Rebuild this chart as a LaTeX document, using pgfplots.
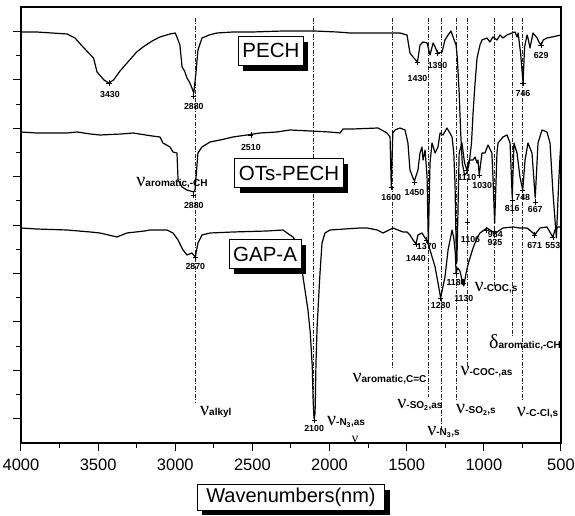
\documentclass[border=0pt]{standalone}
\usepackage{pgfplots}
\pgfplotsset{compat=1.18}
\usepackage{pgfplotstable}
\usepackage{fontspec}
\setmainfont{Liberation Sans}
\newfontfamily\grk{Liberation Serif}
\usetikzlibrary{shadows}

% peak-position labels and band assignments
\newcommand\peakfont{\fontsize{8.8}{8.8}\selectfont\bfseries}
\newcommand\vib[2]{{\grk\fontsize{20}{20}\selectfont #1}{\fontsize{10}{10}\selectfont\bfseries #2}}

% offset transmittance traces (arbitrary units, stacked)
\pgfplotstableread{
wn t
4000 411
3900 411
3800 410
3702 409
3650 405
3598 396
3530 385
3507 371
3462 363
3430 360
3400 363
3358 372
3313 380
3250 391
3209 396
3150 402
3099 406
3034 409
3000 410
2982 403
2970 398
2956 376
2940 372
2924 365
2905 360
2892 355
2880 350
2866 370
2853 393
2827 405
2780 408
2730 410
2626 411
2500 411
2300 412
2100 412
1950 411
1868 410
1700 410
1608 410
1544 410
1498 408
1479 390
1459 386
1430 381
1414 398
1394 401
1368 400
1349 388
1329 400
1316 396
1300 390
1271 391
1252 403
1232 408
1213 412
1195 404
1180 398
1172 385
1160 350
1150 310
1140 280
1125 268
1110 270
1095 280
1080 300
1070 330
1057 360
1044 385
1025 398
1012 403
980 405
961 401
941 406
915 403
895 408
876 405
850 408
818 410
798 411
785 406
778 410
762 390
746 360
736 396
720 408
714 405
701 395
688 405
681 410
655 405
640 400
629 398
615 403
591 405
558 406
500 408
}\pech

\pgfplotstableread{
wn t
4000 311
3900 310
3702 310
3637 311
3550 309
3488 308
3350 309
3274 310
3150 307
3099 306
3080 300
3034 296
3015 291
2989 290
2982 263
2956 256
2924 253
2880 251
2872 253
2853 290
2827 296
2775 301
2710 303
2626 306
2535 308
2451 310
2341 311
2257 313
2125 312
2000 311
1932 310
1913 314
1850 314
1686 315
1628 310
1608 306
1600 256
1590 310
1576 313
1544 315
1511 313
1492 300
1479 273
1459 265
1450 262
1427 273
1414 290
1401 296
1394 283
1381 293
1368 266
1360 200
1349 280
1336 300
1316 290
1297 296
1284 310
1265 308
1239 315
1220 310
1206 306
1195 290
1187 260
1180 200
1175 180
1168 230
1160 290
1142 300
1125 280
1110 273
1095 283
1070 283
1057 286
1044 280
1038 283
1030 268
1012 290
993 290
973 298
948 290
941 266
930 220
915 290
908 300
876 306
850 308
830 300
816 245
805 300
785 290
766 266
748 253
733 283
714 300
688 290
667 245
649 300
623 313
591 311
571 300
552 250
530 205
515 260
505 290
500 300
}\otspech

\pgfplotstableread{
wn t
4000 215
3900 214
3702 213
3550 211
3488 210
3378 206
3313 210
3200 212
3164 213
3054 213
3015 210
2982 203
2950 193
2924 188
2892 190
2870 186
2853 200
2827 208
2775 210
2626 211
2406 212
2302 213
2257 208
2237 206
2210 200
2185 180
2172 166
2140 133
2125 110
2112 76
2106 40
2100 24
2094 30
2088 80
2081 115
2075 133
2062 170
2049 200
2030 210
1997 213
1900 214
1803 215
1757 215
1690 213
1654 210
1589 215
1557 213
1524 211
1498 211
1479 208
1459 203
1440 199
1427 208
1401 210
1381 205
1370 203
1349 193
1316 176
1297 160
1280 145
1252 166
1232 193
1206 213
1195 205
1185 190
1180 170
1170 175
1155 172
1140 162
1130 157
1115 170
1100 180
1090 185
1070 195
1057 200
1040 206
1025 210
980 215
941 211
935 209
895 213
876 215
811 216
766 215
720 215
681 210
671 208
636 215
591 216
553 206
539 213
519 216
500 216
}\gapa

% labelled band positions: mark height, label text, label offset
\pgfplotstableread{
wn t lab dx dy
3430 360 3430 1 -11
2880 347 2880 0 -10
1430 381 1430 0 -16
1300 390 1390 0 -12
746 360 746 0 -10
629 398 629 0 -10
}\pechpk

\pgfplotstableread{
wn t lab dx dy
2880 248 2880 0 -10
2510 308 2510 0 -12
1600 256 1600 0 -10
1450 261 1450 0 -10
1110 273 1110 0 -7
1030 268 1030 3 -10
816 243 816 0 -8
748 253 748 0 -7
667 241 667 0 -7
}\otspk

\pgfplotstableread{
wn t lab dx dy
2870 186 2870 0 -9
2100 23 2100 0 -8
1440 199 1440 0 -14
1370 203 1370 0 -6
1280 145 1280 0 -7
1180 170 1180 0 -9
1130 160 1130 0 -15
1106 221 1106 3 -17
984 213 984 9 -4
935 212 935 1 -11
671 208 671 0 -10
553 206 553 0 -8
}\gapapk

\begin{document}
\begin{tikzpicture}
\useasboundingbox (-21pt,-73pt) rectangle (554pt,443pt);
\begin{axis}[
  scale only axis, width=540pt, height=436pt,
  at={(0pt,0pt)}, anchor=south west,
  x dir=reverse, xmin=500, xmax=4000, ymin=0, ymax=436,
  xtick={500,1000,...,4000}, minor x tick num=1,
  ytick={24.2,72.6,121,169.4,217.8,266.2,314.6,363,411.4},
  minor ytick={48.4,96.8,145.2,193.6,242,290.4,338.8,387.2},
  yticklabels={},
  xtick pos=bottom, ytick pos=left,
  tick align=outside,
  major tick length=8pt, minor tick length=5pt,
  every tick/.style={black, line width=1pt},
  axis line style={line width=1.2pt},
  /pgf/number format/1000 sep={},
  /pgf/number format/assume math mode=true,
  xticklabel style={font=\fontsize{16.5}{16.5}\selectfont, yshift=-4pt},
  clip=false,
  guide/.style={black!85, line width=0.5pt, dash pattern=on 4pt off 1.5pt on 1pt off 1.5pt},
  trace/.style={black, line width=1.2pt, line join=round},
  peaks/.style={only marks, mark=+, mark size=2.6pt, mark options={line width=0.6pt, black},
    nodes near coords, point meta=explicit symbolic,
    visualization depends on={\thisrow{dx} \as \labdx},
    visualization depends on={\thisrow{dy} \as \labdy},
    every node near coord/.append style={anchor=center, inner sep=0pt, font=\peakfont,
      xshift=\labdx pt, yshift=\labdy pt}},
]
% assignment guide lines
\addplot[guide] coordinates {(2872,425) (2872,40)};
\addplot[guide] coordinates {(2105,425) (2105,26)};
\addplot[guide] coordinates {(1596,425) (1596,75)};
\addplot[guide] coordinates {(1362,425) (1362,46)};
\addplot[guide] coordinates {(1278,425) (1278,13)};
\addplot[guide] coordinates {(1181,425) (1181,43)};
\addplot[guide] coordinates {(1110,425) (1110,76)};
\addplot[guide] coordinates {(930,425) (930,156)};
\addplot[guide] coordinates {(818,425) (818,106)};
\addplot[guide] coordinates {(753,425) (753,43)};

% spectra
\addplot[trace] table[x=wn, y=t] {\pech};
\addplot[trace] table[x=wn, y=t] {\otspech};
\addplot[trace] table[x=wn, y=t] {\gapa};

% band positions
\addplot[peaks] table[x=wn, y=t, meta=lab] {\pechpk};
\addplot[peaks] table[x=wn, y=t, meta=lab] {\otspk};
\addplot[peaks] table[x=wn, y=t, meta=lab] {\gapapk};

% sample names
\tikzset{tag/.style={draw, line width=0.8pt, fill=white, font=\fontsize{20.5}{20.5}\selectfont,
  inner xsep=4pt, minimum height=29pt,
  drop shadow={shadow xshift=5pt, shadow yshift=-6pt, fill=black, opacity=1}}}
\node[tag] at (axis cs:2380,392.5) {PECH};
\node[tag] at (axis cs:2263,270) {OTs-PECH};
\node[tag] at (axis cs:2418,189) {GAP-A};

% band assignments
\node[anchor=west, inner sep=0pt] at (axis cs:2840,31) {\vib{ν}{alkyl}};
\node[anchor=west, inner sep=0pt] at (axis cs:2017,21) {\vib{ν}{-N\textsubscript{3},as}};
\node[inner sep=0pt, anchor=south] at (axis cs:1835,0.5) {\grk\fontsize{14}{14}\selectfont ν};
\node[inner sep=0pt] at (axis cs:1612,64) {\vib{ν}{aromatic,C=C}};
\node[inner sep=0pt] at (axis cs:1414,38) {\vib{ν}{-SO\textsubscript{2},as}};
\node[inner sep=0pt] at (axis cs:1262,11) {\vib{ν}{-N\textsubscript{3},s}};
\node[inner sep=0pt] at (axis cs:1051,33) {\vib{ν}{-SO\textsubscript{2},s}};
\node[inner sep=0pt] at (axis cs:983,71) {\vib{ν}{-COC-,as}};
\node[inner sep=0pt] at (axis cs:921,155) {\vib{ν}{-COC,s}};
\node[inner sep=0pt] at (axis cs:733,101) {\vib{δ}{aromatic,-CH}};
\node[inner sep=0pt] at (axis cs:652,30) {\vib{ν}{-C-Cl,s}};
\node[inner sep=0pt] at (axis cs:3021,260) {\vib{ν}{aromatic,-CH}};
\end{axis}
\node[draw, line width=0.8pt, fill=white, font=\fontsize{20}{20}\selectfont,
  inner xsep=9pt, minimum height=25pt,
  drop shadow={shadow xshift=5pt, shadow yshift=-5pt, fill=black, opacity=1}]
  at (270pt,-54.5pt) {Wavenumbers(nm)};
\end{tikzpicture}
\end{document}
